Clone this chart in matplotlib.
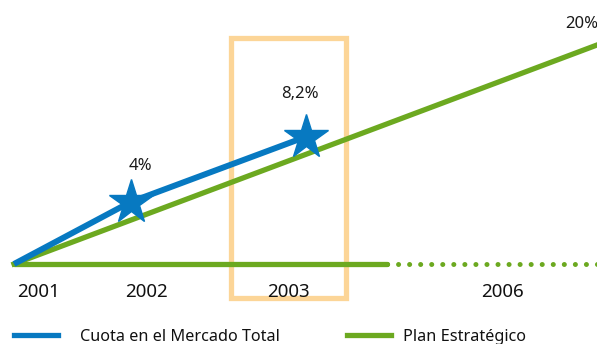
import matplotlib
matplotlib.use('Agg')
import matplotlib.pyplot as plt
from matplotlib.lines import Line2D
from matplotlib.patches import Rectangle

plt.rcParams['font.family'] = ['Noto Sans', 'DejaVu Sans']

BLUE = '#0779c1'
GREEN = '#6ca920'
BOX = '#fcd597'

# market share achieved (%)
share_years = [2001, 2002, 2003.5]
share_values = [0, 4, 8.2]
share_labels = ['', '4%', '8,2%']

# strategic plan target (%)
plan_years = [2001, 2006]
plan_values = [0, 20]

# timeline: solid for the elapsed period, dotted for what is left
timeline_start = 2001
timeline_now = 2004.2
timeline_end = 2006

year_labels = ['2001', '2002', '2003', '2006']
year_label_px = [39, 147, 288, 502]

W, H = 597, 344
PX_PER_YEAR = 116.6
BASE_PX = 264   # vertical pixel of the 0 % line


def px(x):
    return x / W


def py(y):
    return 1 - y / H


fig = plt.figure(figsize=(W / 100, H / 100), dpi=100)
ax = fig.add_axes([0, 0, 1, 1])
ax2 = ax.twinx()
for a in (ax, ax2):
    a.set_axis_off()
    a.set_xlim(2001 - 14 / PX_PER_YEAR, 2001 + (W - 14) / PX_PER_YEAR)

# separate vertical scales: share and plan are drawn schematically
k_share = 15.5
k_plan = 10.95
ax.set_ylim(-(H - BASE_PX) / k_share, BASE_PX / k_share)
ax2.set_ylim(-(H - BASE_PX) / k_plan, BASE_PX / k_plan)
ax2.set_zorder(ax.get_zorder() - 1)
ax.patch.set_visible(False)

# highlight of 2003
x0 = 2001 + (231 - 14) / PX_PER_YEAR
x1 = 2001 + (346 - 14) / PX_PER_YEAR
ax2.add_patch(Rectangle((x0, (BASE_PX - 298) / k_plan), x1 - x0,
                        (298 - 38) / k_plan, fill=False, edgecolor=BOX,
                        lw=3.8, zorder=1))

# timeline
ax2.plot([timeline_start, timeline_now], [0, 0], color=GREEN, lw=3.8,
         solid_capstyle='round', zorder=2)
ax2.plot([timeline_now, timeline_end + 0.2], [0, 0], color=GREEN, lw=3.6,
         linestyle=(0, (0.01, 2.2)), dash_capstyle='round', zorder=2)

# plan line
ax2.plot(plan_years, plan_values, color=GREEN, lw=3.8, zorder=3)
ax2.annotate('20%', xy=(plan_years[-1], plan_values[-1]),
             xytext=(-32 * 0.72, 17 * 0.72), textcoords='offset points',
             ha='left', va='baseline', fontsize=12, color='#1a1a1a')

# market share line with stars
ax.plot(share_years, share_values, color=BLUE, lw=4.3, zorder=4,
        solid_capstyle='butt')
ax.plot(share_years[1:], share_values[1:], linestyle='none', marker='*',
        ms=33, color=BLUE, mec=BLUE, zorder=5)
offsets = [None, (10, 32), (-6, 39)]
for yr, val, lab, off in zip(share_years, share_values, share_labels, offsets):
    if not lab:
        continue
    ax.annotate(lab, xy=(yr, val), xytext=(off[0] * 0.72, off[1] * 0.72),
                textcoords='offset points', ha='center', va='baseline',
                fontsize=12, color='#1a1a1a')

# year labels
for lab, x in zip(year_labels, year_label_px):
    fig.text(px(x), py(297), lab, ha='center', va='baseline', fontsize=13.5,
             color='#111111')

# legend
fig.add_artist(Line2D([px(14), px(58)], [py(335), py(335)], color=BLUE,
                      lw=3.8, transform=fig.transFigure))
fig.add_artist(Line2D([px(347), px(391)], [py(335), py(335)], color=GREEN,
                      lw=3.8, transform=fig.transFigure))
fig.text(px(80), py(341), 'Cuota en el Mercado Total', ha='left',
         va='baseline', fontsize=11.7, color='#111111')
fig.text(px(403), py(341), 'Plan Estratégico', ha='left', va='baseline',
         fontsize=11.7, color='#111111')

fig.savefig('out.png', dpi=100, facecolor='white')
